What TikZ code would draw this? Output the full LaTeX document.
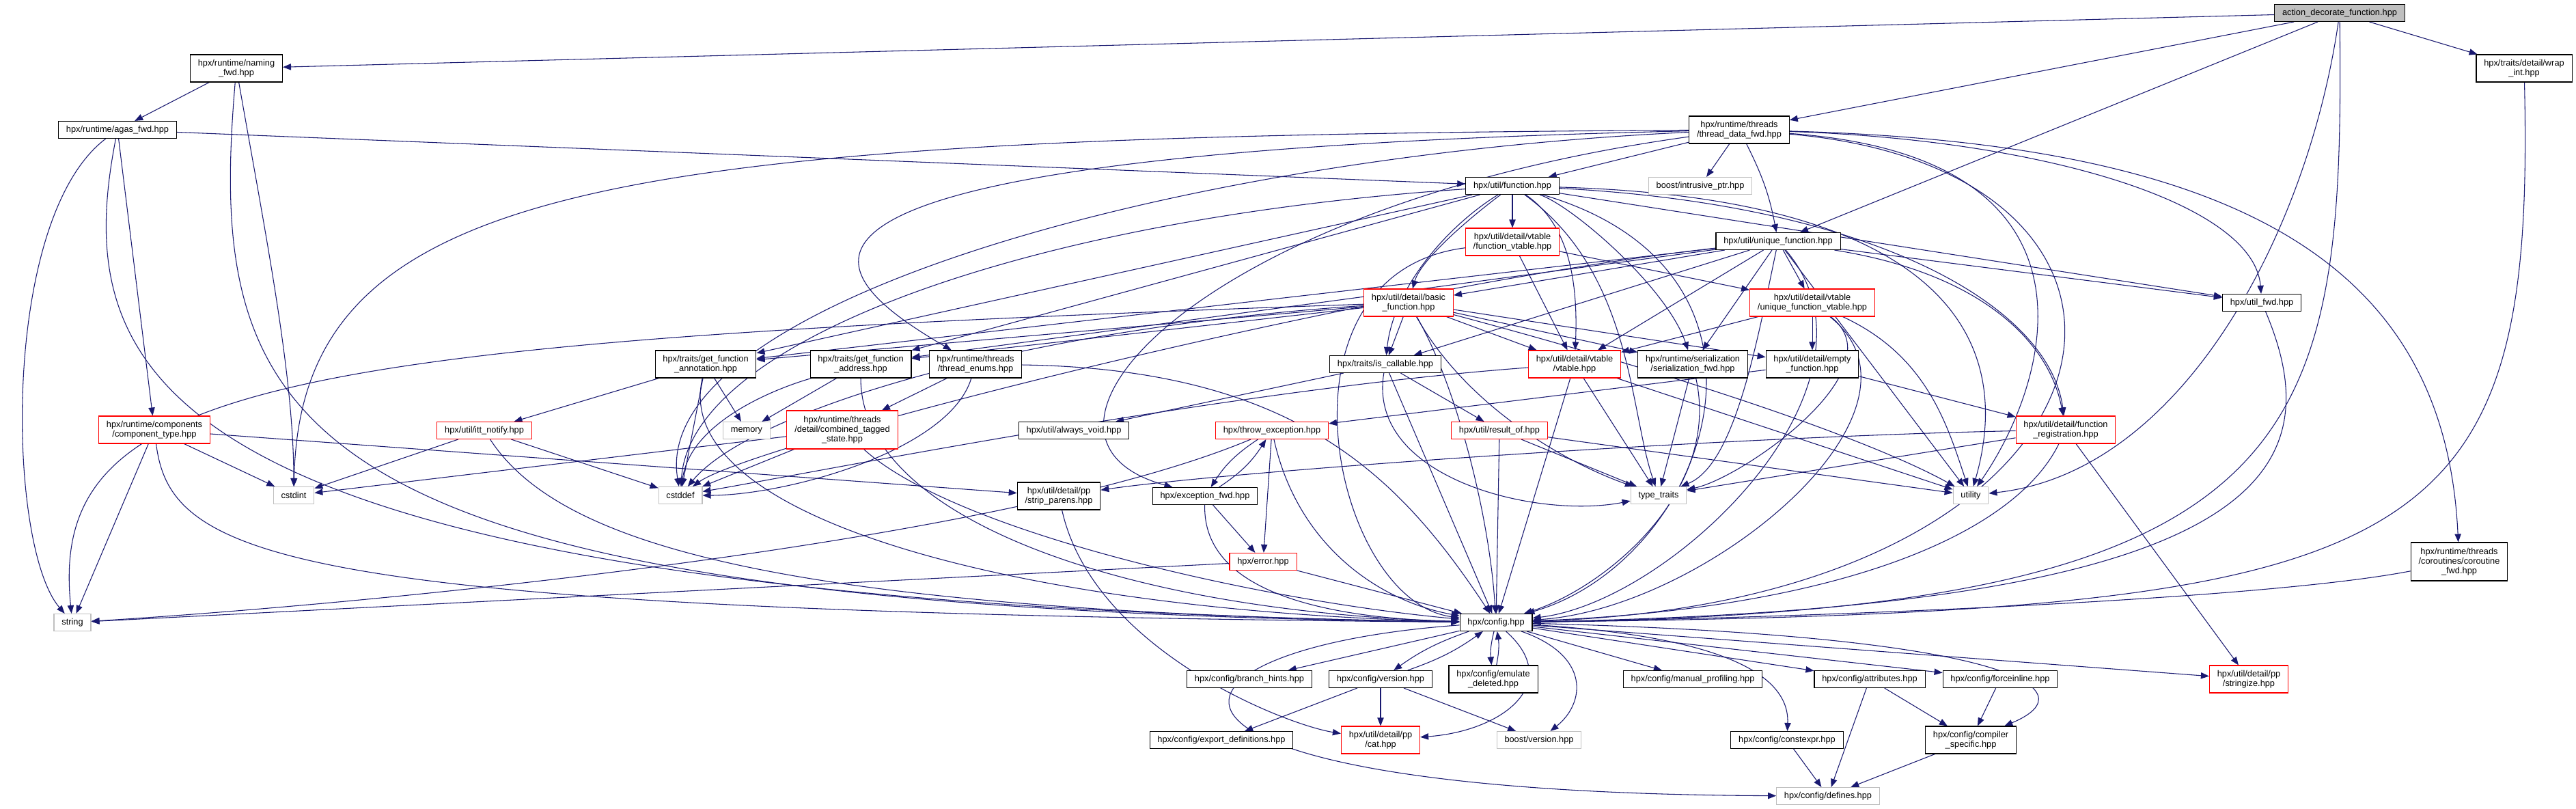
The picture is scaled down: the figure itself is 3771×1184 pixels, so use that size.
\documentclass[tikz,border=0pt]{standalone}
\usepackage{fontspec}
\setmainfont{Liberation Sans}
\usetikzlibrary{arrows.meta,positioning}
\definecolor{edgeblue}{HTML}{191970}
\definecolor{boxred}{HTML}{FF0000}
\definecolor{sysgray}{HTML}{BFBFBF}
\definecolor{rootgray}{HTML}{BFBFBF}
\newcommand{\hdrfont}{\fontsize{9.6pt}{10.5pt}\selectfont}
\pgfdeclarelayer{background}
\pgfsetlayers{background,main}
\tikzset{
  hdrbox/.style={draw=black,fill=white,line width=0.8pt,
                 font=\hdrfont,align=center,inner xsep=8.5pt,inner ysep=2pt,
                 minimum height=18.75pt},
  redbox/.style={hdrbox,draw=boxred},
  sysbox/.style={hdrbox,draw=sysgray},
  rootbox/.style={hdrbox,fill=rootgray},
  twoline/.style={minimum height=30pt},
  threeline/.style={minimum height=42pt},
  incarr/.style={-{Triangle[length=9pt,width=7pt]},draw=edgeblue,line width=0.8pt}
}

\begin{document}
\begin{tikzpicture}[x=0.75pt,y=-0.75pt]
  \useasboundingbox (0,0) rectangle (3771,1184);
  % top rows
  \node[rootbox] (adf) at (3425,19) {action\_decorate\_function.hpp};
  \node[hdrbox,twoline] (wrapint) at (3695,100) {hpx/traits/detail/wrap\\\_int.hpp};
  \node[hdrbox,twoline] (naming) at (346,100) {hpx/runtime/naming\\\_fwd.hpp};
  \node[hdrbox] (agas) at (172,190) {hpx/runtime/agas\_fwd.hpp};
  \node[hdrbox,twoline] (tdfwd) at (2546,190) {hpx/runtime/threads\\/thread\_data\_fwd.hpp};
  \node[hdrbox] (func) at (2214,272) {hpx/util/function.hpp};
  \node[sysbox] (intrus) at (2489,272) {boost/intrusive\_ptr.hpp};
  \node[redbox,twoline] (funcvt) at (2214,354) {hpx/util/detail/vtable\\/function\_vtable.hpp};
  \node[hdrbox] (ufunc) at (2603,353) {hpx/util/unique\_function.hpp};
  \node[redbox,twoline] (basicf) at (2062,443) {hpx/util/detail/basic\\\_function.hpp};
  \node[redbox,twoline] (ufuncvt) at (2653,443) {hpx/util/detail/vtable\\/unique\_function\_vtable.hpp};
  \node[hdrbox] (utilfwd) at (3311,443) {hpx/util\_fwd.hpp};
  % middle rows
  \node[hdrbox,twoline] (gfannot) at (1033,533) {hpx/traits/get\_function\\\_annotation.hpp};
  \node[hdrbox,twoline] (gfaddr) at (1260,533) {hpx/traits/get\_function\\\_address.hpp};
  \node[hdrbox,twoline] (tenums) at (1428,533) {hpx/runtime/threads\\/thread\_enums.hpp};
  \node[hdrbox] (iscall) at (2028,533) {hpx/traits/is\_callable.hpp};
  \node[redbox,twoline] (vtable) at (2305,533) {hpx/util/detail/vtable\\/vtable.hpp};
  \node[hdrbox,twoline] (serfwd) at (2478,533) {hpx/runtime/serialization\\/serialization\_fwd.hpp};
  \node[hdrbox,twoline] (emptyf) at (2653,533) {hpx/util/detail/empty\\\_function.hpp};
  \node[redbox,twoline] (comptype) at (226,629) {hpx/runtime/components\\/component\_type.hpp};
  \node[redbox] (itt) at (709,630) {hpx/util/itt\_notify.hpp};
  \node[sysbox] (memory) at (1093,630) {memory};
  \node[redbox,threeline] (cts) at (1233,629) {hpx/runtime/threads\\/detail/combined\_tagged\\\_state.hpp};
  \node[hdrbox] (avoid) at (1572,630) {hpx/util/always\_void.hpp};
  \node[redbox] (throwex) at (1862,630) {hpx/throw\_exception.hpp};
  \node[redbox] (resultof) at (2195,630) {hpx/util/result\_of.hpp};
  \node[redbox,twoline] (freg) at (3024,629) {hpx/util/detail/function\\\_registration.hpp};
  \node[sysbox] (cstdint) at (430,725) {cstdint};
  \node[sysbox] (cstddef) at (996,725) {cstddef};
  \node[hdrbox,twoline] (strip) at (1550,726) {hpx/util/detail/pp\\/strip\_parens.hpp};
  \node[hdrbox] (excfwd) at (1764,726) {hpx/exception\_fwd.hpp};
  \node[sysbox] (typetr) at (2428,725) {type\_traits};
  \node[sysbox] (utility) at (2885,725) {utility};
  \node[redbox] (error) at (1849,822) {hpx/error.hpp};
  \node[hdrbox,threeline] (corofwd) at (3600,822) {hpx/runtime/threads\\/coroutines/coroutine\\\_fwd.hpp};
  % config and below
  \node[sysbox] (string) at (106,911) {string};
  \node[hdrbox] (config) at (2190,911) {hpx/config.hpp};
  \node[hdrbox] (branch) at (1829,994) {hpx/config/branch\_hints.hpp};
  \node[hdrbox] (version) at (2021,994) {hpx/config/version.hpp};
  \node[hdrbox,twoline] (emul) at (2186,994) {hpx/config/emulate\\\_deleted.hpp};
  \node[hdrbox] (manprof) at (2478,994) {hpx/config/manual\_profiling.hpp};
  \node[hdrbox] (attrib) at (2737,994) {hpx/config/attributes.hpp};
  \node[hdrbox] (forcein) at (2928,994) {hpx/config/forceinline.hpp};
  \node[redbox,twoline] (stringize) at (3292,994) {hpx/util/detail/pp\\/stringize.hpp};
  \node[hdrbox] (exportdef) at (1788,1083) {hpx/config/export\_definitions.hpp};
  \node[redbox,twoline] (cat) at (2021,1083) {hpx/util/detail/pp\\/cat.hpp};
  \node[sysbox] (bversion) at (2253,1083) {boost/version.hpp};
  \node[hdrbox] (constexpr) at (2616,1083) {hpx/config/constexpr.hpp};
  \node[hdrbox,twoline] (compspec) at (2885,1083) {hpx/config/compiler\\\_specific.hpp};
  \node[sysbox] (defines) at (2676,1165) {hpx/config/defines.hpp};

  \begin{pgfonlayer}{background}
  % root file
  \draw[incarr] (adf) -- (naming);
  \draw[incarr] (adf) -- (tdfwd);
  \draw[incarr] (adf) -- (ufunc);
  \draw[incarr] (adf) -- (wrapint);
  \draw[incarr] (adf) .. controls (3432,650) and (3380,895) .. (config);
  \draw[incarr] (adf) .. controls (3380,330) and (3200,690) .. (utility);
  \draw[incarr] (wrapint) .. controls (3712,820) and (3550,895) .. (config);
  % naming, agas, components
  \draw[incarr] (naming) -- (agas);
  \draw[incarr] (naming) .. controls (300,640) and (420,890) .. (config);
  \draw[incarr] (naming) .. controls (390,350) and (430,550) .. (cstdint);
  \draw[incarr] (agas) -- (func);
  \draw[incarr] (agas) .. controls (0,320) and (10,800) .. (string);
  \draw[incarr] (agas) .. controls (100,560) and (220,880) .. (config);
  \draw[incarr] (agas) -- (comptype);
  \draw[incarr] (comptype) -- (cstdint);
  \draw[incarr] (comptype) -- (string);
  \draw[incarr] (comptype) .. controls (250,820) and (420,895) .. (config);
  \draw[incarr] (comptype) -- (strip);
  \draw[incarr] (itt) -- (cstdint);
  \draw[incarr] (itt) -- (cstddef);
  \draw[incarr] (itt) .. controls (820,800) and (1150,895) .. (config);
  % traits and thread enums
  \draw[incarr] (gfannot) -- (memory);
  \draw[incarr] (gfannot) -- (cstddef);
  \draw[incarr] (gfannot) -- (itt);
  \draw[incarr] (gfannot) .. controls (980,760) and (1500,895) .. (config);
  \draw[incarr] (gfaddr) -- (memory);
  \draw[incarr] (gfaddr) .. controls (1130,570) and (1010,620) .. (cstddef);
  \draw[incarr] (gfaddr) .. controls (1260,760) and (1650,895) .. (config);
  \draw[incarr] (tenums) -- (cts);
  \draw[incarr] (tenums) .. controls (1390,660) and (1150,725) .. (cstddef);
  \draw[incarr] (tenums) .. controls (1900,540) and (2050,700) .. (config);
  \draw[incarr] (cts) -- (cstddef);
  \draw[incarr] (cts) -- (cstdint);
  \draw[incarr] (cts) .. controls (1400,780) and (1850,880) .. (config);
  \draw[incarr] (iscall) -- (avoid);
  \draw[incarr] (iscall) -- (resultof);
  \draw[incarr] (iscall) -- (config);
  \draw[incarr] (iscall) .. controls (2000,700) and (2250,760) .. (typetr);
  \draw[incarr] (resultof) -- (config);
  \draw[incarr] (resultof) -- (typetr);
  \draw[incarr] (resultof) -- (utility);
  % exceptions
  \draw[incarr] (throwex) to[bend right=12] (excfwd);
  \draw[incarr] (excfwd) to[bend right=12] (throwex);
  \draw[incarr] (throwex) -- (error);
  \draw[incarr] (throwex) .. controls (1900,800) and (2020,880) .. (config);
  \draw[incarr] (throwex) .. controls (1480,790) and (600,880) .. (string);
  \draw[incarr] (excfwd) -- (error);
  \draw[incarr] (excfwd) .. controls (1760,870) and (1950,905) .. (config);
  \draw[incarr] (error) -- (string);
  \draw[incarr] (error) -- (config);
  \draw[incarr] (strip) .. controls (1600,950) and (1880,1060) .. (cat);
  % registration, fwd headers
  \draw[incarr] (freg) .. controls (2950,780) and (2700,890) .. (config);
  \draw[incarr] (freg) -- (typetr);
  \draw[incarr] (freg) -- (stringize);
  \draw[incarr] (freg) .. controls (2500,640) and (1800,690) .. (strip);
  \draw[incarr] (utilfwd) .. controls (3420,700) and (3300,890) .. (config);
  \draw[incarr] (corofwd) .. controls (3300,880) and (2600,905) .. (config);
  % thread_data_fwd
  \draw[incarr] (tdfwd) -- (func);
  \draw[incarr] (tdfwd) -- (intrus);
  \draw[incarr] (tdfwd) to[bend left=8] (ufunc);
  \draw[incarr] (tdfwd) .. controls (900,200) and (440,260) .. (cstdint);
  \draw[incarr] (tdfwd) .. controls (1000,225) and (1200,400) .. (tenums);
  \draw[incarr] (tdfwd) .. controls (1700,230) and (950,450) .. (cstddef);
  \draw[incarr] (tdfwd) .. controls (1750,300) and (1450,640) .. (excfwd);
  \draw[incarr] (tdfwd) .. controls (3000,205) and (3300,300) .. (utilfwd);
  \draw[incarr] (tdfwd) .. controls (3300,210) and (3580,400) .. (corofwd);
  \draw[incarr] (tdfwd) .. controls (3100,230) and (3000,560) .. (utility);
  \draw[incarr] (tdfwd) .. controls (3250,250) and (3150,880) .. (config);
  % function.hpp
  \draw[incarr] (func) -- (funcvt);
  \draw[incarr] (func) .. controls (2150,320) and (2080,380) .. (basicf);
  \draw[incarr] (func) .. controls (2120,330) and (2040,420) .. (iscall);
  \draw[incarr] (func) .. controls (2300,330) and (2310,420) .. (vtable);
  \draw[incarr] (func) .. controls (2300,300) and (2440,420) .. (serfwd);
  \draw[incarr] (func) -- (gfannot);
  \draw[incarr] (func) -- (gfaddr);
  \draw[incarr] (func) .. controls (2750,300) and (3000,450) .. (freg);
  \draw[incarr] (func) -- (utilfwd);
  \draw[incarr] (func) .. controls (1500,320) and (1010,500) .. (cstddef);
  \draw[incarr] (func) .. controls (2390,400) and (2385,600) .. (typetr);
  \draw[incarr] (func) .. controls (2850,290) and (2950,500) .. (utility);
  \draw[incarr] (func) .. controls (2650,400) and (2500,820) .. (config);
  % unique_function.hpp
  \draw[incarr] (ufunc) -- (ufuncvt);
  \draw[incarr] (ufunc) -- (basicf);
  \draw[incarr] (ufunc) -- (iscall);
  \draw[incarr] (ufunc) -- (vtable);
  \draw[incarr] (ufunc) -- (serfwd);
  \draw[incarr] (ufunc) -- (gfannot);
  \draw[incarr] (ufunc) -- (gfaddr);
  \draw[incarr] (ufunc) .. controls (2900,400) and (3000,500) .. (freg);
  \draw[incarr] (ufunc) -- (utilfwd);
  \draw[incarr] (ufunc) .. controls (2000,420) and (1100,650) .. (cstddef);
  \draw[incarr] (ufunc) .. controls (2572,500) and (2540,680) .. (typetr);
  \draw[incarr] (ufunc) -- (utility);
  \draw[incarr] (ufunc) .. controls (2780,560) and (2450,880) .. (config);
  % basic_function.hpp
  \draw[incarr] (basicf) -- (emptyf);
  \draw[incarr] (basicf) -- (vtable);
  \draw[incarr] (basicf) -- (serfwd);
  \draw[incarr] (basicf) -- (iscall);
  \draw[incarr] (basicf) -- (gfannot);
  \draw[incarr] (basicf) -- (gfaddr);
  \draw[incarr] (basicf) .. controls (1500,480) and (1100,600) .. (cstddef);
  \draw[incarr] (basicf) .. controls (400,500) and (70,560) .. (string);
  \draw[incarr] (basicf) .. controls (2150,600) and (2300,680) .. (typetr);
  \draw[incarr] (basicf) .. controls (2500,560) and (2750,650) .. (utility);
  \draw[incarr] (basicf) .. controls (2130,560) and (2180,750) .. (config);
  % vtables
  \draw[incarr] (funcvt) -- (vtable);
  \draw[incarr] (funcvt) -- (ufuncvt);
  \draw[incarr] (funcvt) .. controls (1850,400) and (1950,880) .. (config);
  \draw[incarr] (ufuncvt) -- (vtable);
  \draw[incarr] (ufuncvt) -- (emptyf);
  \draw[incarr] (ufuncvt) .. controls (2780,540) and (2550,700) .. (typetr);
  \draw[incarr] (ufuncvt) .. controls (2820,520) and (2850,620) .. (utility);
  \draw[incarr] (ufuncvt) .. controls (2850,600) and (2500,890) .. (config);
  \draw[incarr] (vtable) -- (typetr);
  \draw[incarr] (vtable) .. controls (1800,570) and (1200,690) .. (cstddef);
  \draw[incarr] (vtable) -- (utility);
  \draw[incarr] (vtable) -- (config);
  \draw[incarr] (serfwd) -- (typetr);
  \draw[incarr] (serfwd) .. controls (2520,720) and (2350,860) .. (config);
  \draw[incarr] (emptyf) -- (throwex);
  \draw[incarr] (emptyf) -- (freg);
  % config.hpp
  \draw[incarr] (config) -- (branch);
  \draw[incarr] (config) to[bend right=8] (version);
  \draw[incarr] (version) to[bend right=8] (config);
  \draw[incarr] (config) to[bend right=10] (emul);
  \draw[incarr] (emul) to[bend right=10] (config);
  \draw[incarr] (config) -- (manprof);
  \draw[incarr] (config) -- (attrib);
  \draw[incarr] (config) -- (forcein);
  \draw[incarr] (config) -- (stringize);
  \draw[incarr] (config) .. controls (2290,1000) and (2200,1070) .. (cat);
  \draw[incarr] (config) .. controls (2330,960) and (2320,1030) .. (bversion);
  \draw[incarr] (config) .. controls (2500,930) and (2620,980) .. (constexpr);
  \draw[incarr] (config) .. controls (2950,930) and (3060,1010) .. (compspec);
  \draw[incarr] (config) .. controls (1650,950) and (1600,1160) .. (defines);
  \draw[incarr] (version) -- (exportdef);
  \draw[incarr] (version) -- (cat);
  \draw[incarr] (version) -- (bversion);
  \draw[incarr] (attrib) -- (defines);
  \draw[incarr] (attrib) -- (compspec);
  \draw[incarr] (forcein) -- (compspec);
  \draw[incarr] (constexpr) -- (defines);
  \draw[incarr] (compspec) -- (defines);
  \end{pgfonlayer}
\end{tikzpicture}
\end{document}
